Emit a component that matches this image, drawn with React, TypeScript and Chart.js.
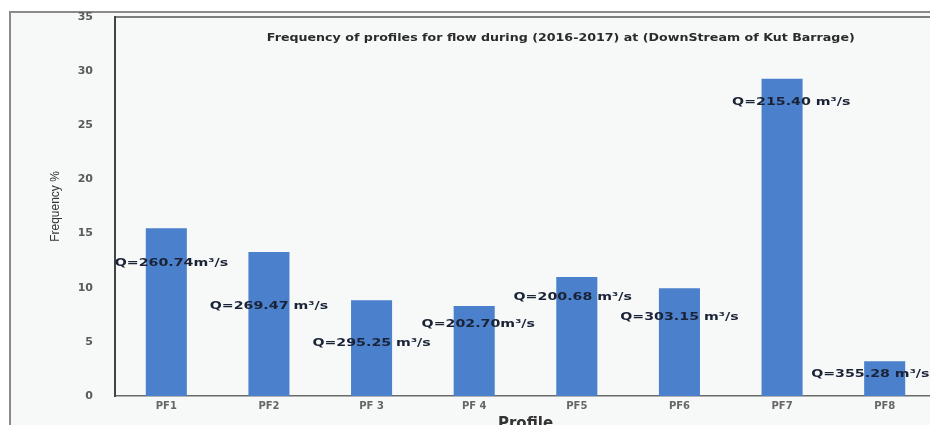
import React, { useEffect, useRef } from "react";
import { Chart, registerables } from "chart.js";

Chart.register(...registerables);

const categories = ["PF1", "PF2", "PF 3", "PF 4", "PF5", "PF6", "PF7", "PF8"];
const frequency = [15.5, 13.3, 8.85, 8.3, 11.0, 9.95, 29.3, 3.2];
const flowLabels = [
  "Q=260.74m³/s",
  "Q=269.47 m³/s",
  "Q=295.25 m³/s",
  "Q=202.70m³/s",
  "Q=200.68 m³/s",
  "Q=303.15 m³/s",
  "Q=215.40 m³/s",
  "Q=355.28 m³/s",
];
const labelLevels = [12.2, 8.3, 4.9, 6.6, 9.1, 7.3, 27.1, 2.0];
const labelShift = [0.05, 0, 0, 0.04, -0.04, 0, 0.09, -0.14];
const yTicks = [0, 5, 10, 15, 20, 25, 30, 35];
const chartTitle =
  "Frequency of profiles for flow during (2016-2017) at (DownStream of Kut Barrage)";

const W = 936;
const H = 425;

const framePlugin = {
  id: "framePlugin",
  beforeDraw(chart: any) {
    const { ctx, chartArea } = chart;
    ctx.save();
    ctx.fillStyle = "#ffffff";
    ctx.fillRect(0, 0, W, H);
    ctx.fillStyle = "#f7f8f8";
    ctx.fillRect(10, 12, W - 10, H - 12);
    ctx.strokeStyle = "#8a8a8a";
    ctx.lineWidth = 2;
    ctx.beginPath();
    ctx.moveTo(10, H);
    ctx.lineTo(10, 12);
    ctx.lineTo(W, 12);
    ctx.stroke();
    ctx.strokeStyle = "#555555";
    ctx.lineWidth = 1.5;
    ctx.beginPath();
    ctx.moveTo(chartArea.left, chartArea.top);
    ctx.lineTo(chartArea.right, chartArea.top);
    ctx.stroke();
    ctx.restore();
  },
  afterDatasetsDraw(chart: any) {
    const { ctx, chartArea, scales } = chart;
    const xs = scales.x;
    const ys = scales.y;
    ctx.save();
    ctx.textAlign = "center";
    ctx.textBaseline = "middle";
    // title
    ctx.fillStyle = "#2b2b2b";
    ctx.font = "bold 11px 'DejaVu Sans'";
    const tx = chartArea.left + chartArea.width * 0.543;
    const ty = chartArea.top + 21;
    ctx.save();
    ctx.translate(tx, ty);
    ctx.scale(1.15, 1);
    ctx.fillText(chartTitle, 0, 0);
    ctx.restore();
    // flow labels
    ctx.fillStyle = "#1a2236";
    ctx.font = "bold 10px 'DejaVu Sans'";
    flowLabels.forEach((t, i) => {
      const x = xs.getPixelForValue(i + labelShift[i]);
      const y = ys.getPixelForValue(labelLevels[i]);
      ctx.save();
      ctx.translate(x, y);
      ctx.scale(1.42, 1);
      ctx.fillText(t, 0, 0);
      ctx.restore();
    });
    ctx.restore();
  },
};

export default function App() {
  const ref = useRef<HTMLCanvasElement | null>(null);
  useEffect(() => {
    if (!ref.current) return;
    const chart = new Chart(ref.current, {
      type: "bar",
      data: {
        labels: categories,
        datasets: [
          {
            label: "Frequency %",
            data: frequency,
            backgroundColor: "#4a80cc",
            borderWidth: 0,
            barPercentage: 0.5,
            categoryPercentage: 0.8,
          },
        ],
      },
      options: {
        responsive: false,
        animation: false,
        layout: { padding: { top: 17, left: 0, right: 0, bottom: 0 } },
        plugins: {
          legend: { display: false },
          tooltip: { enabled: false },
          title: { display: false },
        },
        scales: {
          x: {
            grid: { display: false, drawTicks: false },
            border: { display: true, color: "#6a6a6a", width: 1.5 },
            ticks: {
              color: "#666666",
              font: { family: "'DejaVu Sans'", size: 10, weight: "bold" },
              padding: 4,
              maxRotation: 0,
              autoSkip: false,
            },
            title: {
              display: true,
              text: "Profile",
              color: "#333333",
              font: { family: "'DejaVu Sans'", size: 15, weight: "bold" },
              padding: { top: 0, bottom: -8 },
            },
            afterFit: (s: any) => {
              s.height = 29;
              s.paddingLeft = 0;
              s.paddingRight = 0;
            },
          },
          y: {
            min: 0,
            max: 35,
            afterBuildTicks: (s: any) => {
              s.ticks = yTicks.map((v) => ({ value: v }));
            },
            grid: { display: false, drawTicks: false },
            border: { display: true, color: "#444444", width: 2 },
            ticks: {
              color: "#5a5a5a",
              font: { family: "'DejaVu Sans'", size: 11, weight: "bold" },
              padding: 22,
            },
            title: {
              display: true,
              text: "Frequency %",
              color: "#333333",
              font: { family: "'Liberation Sans Narrow', 'Liberation Sans'", size: 12 },
              padding: { top: 48, bottom: 0 },
            },
            afterFit: (s: any) => {
              s.width = 115;
              s.paddingTop = 0;
              s.paddingBottom = 0;
            },
          },
        },
      },
      plugins: [framePlugin],
    });
    return () => chart.destroy();
  }, []);
  return (
    <div
      style={{
        position: "fixed",
        left: 0,
        top: 0,
        width: 930,
        height: 425,
        overflow: "hidden",
        background: "#ffffff",
      }}
    >
      <canvas ref={ref} width={W} height={H} style={{ display: "block", width: W, height: H }} />
    </div>
  );
}
